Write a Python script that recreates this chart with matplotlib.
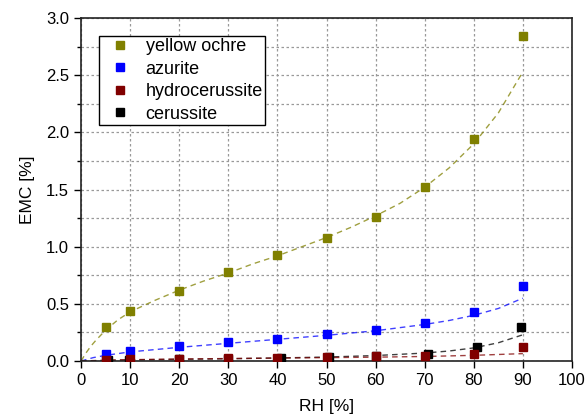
import matplotlib
matplotlib.use("Agg")
import matplotlib.pyplot as plt
from matplotlib.ticker import MultipleLocator

plt.rcParams['font.family'] = ['Liberation Sans', 'DejaVu Sans']

# measured points
rh = [5, 10, 20, 30, 40, 50, 60, 70, 80, 90]
ochre = [0.295, 0.435, 0.615, 0.78, 0.93, 1.08, 1.26, 1.52, 1.94, 2.84]
azurite = [0.06, 0.09, 0.13, 0.165, 0.196, 0.236, 0.27, 0.335, 0.43, 0.66]
hydro = [0.01, 0.015, 0.02, 0.03, 0.03, 0.035, 0.04, 0.044, 0.058, 0.12]
rh_cer = [5.4, 9.7, 20, 30, 40.8, 50.6, 60, 70.6, 80.6, 89.6]
cerussite = [0.005, 0.01, 0.015, 0.02, 0.03, 0.035, 0.04, 0.064, 0.125, 0.295]

# fitted curves
fit_x_ochre = [0, 1, 2, 3, 5, 7.5, 10, 15, 20, 25, 30, 35, 40, 45, 50, 55, 60,
               65, 70, 75, 80, 85, 90]
fit_ochre = [0, 0.07, 0.13, 0.18, 0.27, 0.36, 0.43, 0.53, 0.62, 0.70, 0.77, 0.85,
             0.92, 1.00, 1.08, 1.17, 1.27, 1.38, 1.52, 1.69, 1.90, 2.17, 2.53]
fit_x_az = [0, 2.5, 5, 10, 20, 30, 40, 50, 60, 70, 75, 80, 85, 90]
fit_az = [0, 0.03, 0.05, 0.08, 0.12, 0.155, 0.19, 0.225, 0.265, 0.32, 0.355, 0.40,
          0.46, 0.55]
fit_x_hy = [0, 5, 10, 20, 30, 40, 50, 60, 70, 80, 90]
fit_hy = [0, 0.008, 0.012, 0.018, 0.022, 0.026, 0.03, 0.034, 0.04, 0.05, 0.065]
fit_x_ce = [0, 10, 20, 30, 40, 50, 60, 70, 75, 80, 85, 90]
fit_ce = [0, 0.01, 0.015, 0.02, 0.027, 0.035, 0.048, 0.07, 0.088, 0.115, 0.16, 0.23]

fig = plt.figure(figsize=(5.85, 4.15), dpi=100)
ax = fig.add_axes([0.1385, 0.130, 0.8393, 0.8266])

dash = (0, (4, 3))
ax.plot(fit_x_ochre, fit_ochre, color='#808000', ls=dash, lw=1, alpha=0.75, zorder=2)
ax.plot(fit_x_az, fit_az, color='#0000ff', ls=dash, lw=1, alpha=0.75, zorder=2)
ax.plot(fit_x_ce, fit_ce, color='black', ls=dash, lw=1, alpha=0.75, zorder=2)
ax.plot(fit_x_hy, fit_hy, color='#800000', ls=dash, lw=1, alpha=0.75, zorder=2)

ms = 6
ax.plot(rh, ochre, 's', color='#808000', ms=ms, label='yellow ochre', zorder=4)
ax.plot(rh, azurite, 's', color='#0000ff', ms=ms, label='azurite', zorder=4)
ax.plot(rh, hydro, 's', color='#800000', ms=ms, label='hydrocerussite', zorder=5)
ax.plot(rh_cer, cerussite, 's', color='black', ms=ms, label='cerussite', zorder=3)

ax.set_xlim(0, 100)
ax.set_ylim(0, 3.0)
ax.xaxis.set_major_locator(MultipleLocator(10))
ax.yaxis.set_major_locator(MultipleLocator(0.5))
ax.yaxis.set_minor_locator(MultipleLocator(0.25))
ax.yaxis.set_major_formatter(matplotlib.ticker.FormatStrFormatter('%.1f'))

ax.grid(True, which='major', color='#999999', ls=(0, (2, 2)), lw=0.9)
ax.grid(True, which='minor', axis='y', color='#999999', ls=(0, (2, 2)), lw=0.9)
ax.set_axisbelow(True)

ax.tick_params(axis='both', which='major', direction='out', length=5, width=1,
               labelsize=12, top=False, right=False)
ax.tick_params(axis='y', which='minor', direction='out', length=3, width=1)
for s in ax.spines.values():
    s.set_linewidth(1.2)
    s.set_color('#222222')

ax.set_xlabel('RH [%]', fontsize=12.5, labelpad=8)
ax.set_ylabel('EMC [%]', fontsize=12.5, labelpad=8)

leg = ax.legend(loc='upper left', bbox_to_anchor=(0.037, 0.947), fontsize=13,
                frameon=True, fancybox=False, framealpha=1, edgecolor='black',
                handlelength=2.1, handletextpad=0.35, labelspacing=0.3,
                borderpad=0.12, borderaxespad=0, markerscale=1.0)
leg.get_frame().set_linewidth(1.0)

fig.savefig('out.png', dpi=100)
